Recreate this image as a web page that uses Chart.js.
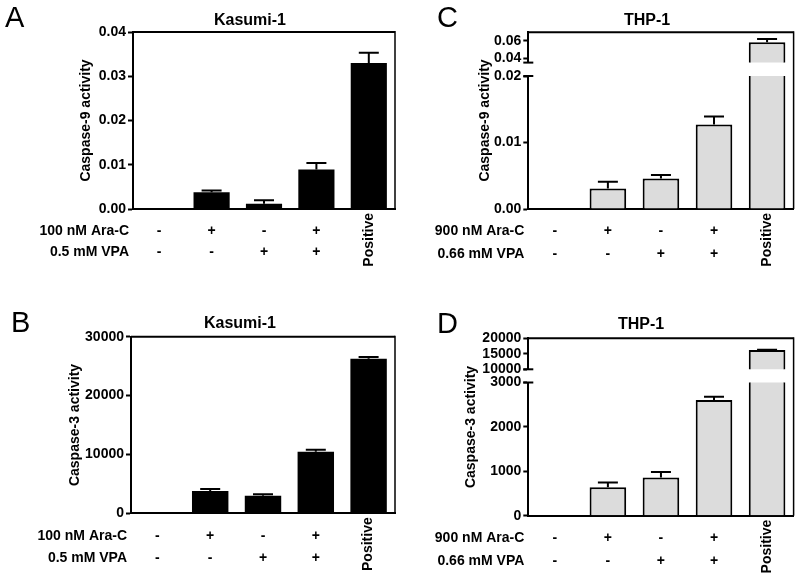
<!DOCTYPE html>
<html>
<head>
<meta charset="utf-8">
<script src="https://cdn.jsdelivr.net/npm/chart.js@4.4.1/dist/chart.umd.min.js"></script>
<style>
html, body { margin: 0; padding: 0; background: #fff; }
#fig { position: relative; width: 800px; height: 575px; overflow: hidden; background: #fff; }
#fig canvas { position: absolute; }
</style>
</head>
<body>
<div id="fig">
  <canvas id="chartA" width="400" height="287" style="left:0;top:0"></canvas>
  <canvas id="chartB" width="400" height="288" style="left:0;top:287px"></canvas>
  <canvas id="chartCup" width="400" height="287" style="left:400px;top:0"></canvas>
  <canvas id="chartClow" width="400" height="287" style="left:400px;top:0"></canvas>
  <canvas id="chartDup" width="400" height="288" style="left:400px;top:287px"></canvas>
  <canvas id="chartDlow" width="400" height="288" style="left:400px;top:287px"></canvas>
</div>
<script>
// conditions under each bar
const conditions = ['Control', 'Ara-C', 'VPA', 'Ara-C + VPA', 'Positive'];
const araSigns = ['-', '+', '-', '+', ''];
const vpaSigns = ['-', '-', '+', '+', ''];
const positiveLabel = 'Positive';

// Kasumi-1
const kasumiCasp9 = [0, 0.0038, 0.0012, 0.0089, 0.0330];
const kasumiCasp9Err = [0, 0.0004, 0.0008, 0.0015, 0.0023];
const kasumiCasp3 = [0, 3790, 2990, 10460, 26250];
const kasumiCasp3Err = [0, 340, 230, 340, 290];

// THP-1
const thpCasp9 = [0, 0.0031, 0.0046, 0.0127, 0.0585];
const thpCasp9Err = [0, 0.0010, 0.0005, 0.0012, 0.0038];
const thpCasp3 = [0, 641, 858, 2605, 16230];
const thpCasp3Err = [0, 104, 128, 75, 110];

// tick labels
const ticksA = [0, 0.01, 0.02, 0.03, 0.04];
const ticksB = [0, 10000, 20000, 30000];
const ticksCLow = [0, 0.01, 0.02];
const ticksCHigh = [0.04, 0.06];
const ticksDLow = [0, 1000, 2000, 3000];
const ticksDHigh = [10000, 15000, 20000];

const FONT = "'Liberation Sans', Arial, Helvetica, sans-serif";
const BLACK = '#000';
const GREY = '#dcdcdc';
const Y_W = 50;

const fmt9 = v => Number(v).toFixed(2);
const fmt3 = v => String(v);

// error bars: upward line with a cap
const errorBars = {
    id: 'errorBars',
    afterDatasetsDraw(chart, args, opts) {
        const errs = opts.errors;
        if (!errs) return;
        const ctx = chart.ctx;
        const y = chart.scales.y;
        const vals = chart.data.datasets[0].data;
        const meta = chart.getDatasetMeta(0);
        ctx.save();
        ctx.strokeStyle = BLACK;
        ctx.lineWidth = 2;
        meta.data.forEach((bar, i) => {
            const v = vals[i], e = errs[i];
            if (!e || v < y.min || v + e > y.max) return;
            const top = y.getPixelForValue(v + e);
            ctx.beginPath();
            ctx.moveTo(bar.x, bar.y);
            ctx.lineTo(bar.x, top);
            ctx.moveTo(bar.x - 10, top);
            ctx.lineTo(bar.x + 10, top);
            ctx.stroke();
        });
        ctx.restore();
    }
};

// frame, panel letter, titles, condition rows
const decor = {
    id: 'decor',
    afterDraw(chart, args, o) {
        const ctx = chart.ctx;
        const ca = chart.chartArea;
        const x = chart.scales.x;
        ctx.save();
        ctx.fillStyle = BLACK;
        ctx.strokeStyle = BLACK;

        if (o.frameTop != null) {
            ctx.lineWidth = 2;
            ctx.beginPath();
            ctx.moveTo(ca.left, o.frameTop);
            ctx.lineTo(ca.right, o.frameTop);
            ctx.stroke();
            ctx.lineWidth = 1.5;
            ctx.beginPath();
            ctx.moveTo(ca.right, o.frameTop - 1);
            ctx.lineTo(ca.right, ca.bottom);
            ctx.stroke();
        }
        (o.caps || []).forEach(c => {
            const yy = c === 'top' ? ca.top : ca.bottom;
            ctx.lineWidth = 2;
            ctx.beginPath();
            ctx.moveTo(ca.left - 5, yy);
            ctx.lineTo(ca.left + 5, yy);
            ctx.stroke();
        });

        if (o.letter) {
            ctx.font = '29px ' + FONT;
            ctx.textAlign = 'left';
            ctx.textBaseline = 'alphabetic';
            ctx.fillText(o.letter, o.letterX, o.letterY);
        }
        if (o.title) {
            ctx.font = 'bold 16px ' + FONT;
            ctx.textAlign = 'center';
            ctx.textBaseline = 'alphabetic';
            ctx.fillText(o.title, o.titleX, o.titleY);
        }
        if (o.yTitle) {
            ctx.save();
            ctx.translate(o.yTitleX, o.yTitleY);
            ctx.rotate(-Math.PI / 2);
            ctx.font = 'bold 14px ' + FONT;
            ctx.textAlign = 'center';
            ctx.textBaseline = 'middle';
            ctx.fillText(o.yTitle, 0, 0);
            ctx.restore();
        }
        if (o.rows) {
            ctx.font = 'bold 14px ' + FONT;
            ctx.textBaseline = 'middle';
            o.rows.forEach((row, r) => {
                const yy = ca.bottom + o.rowOffsets[r];
                ctx.textAlign = 'right';
                ctx.fillText(row.label, ca.left - 4, yy);
                ctx.textAlign = 'center';
                row.signs.forEach((s, i) => {
                    if (s) ctx.fillText(s, x.getPixelForValue(i), yy);
                });
            });
            ctx.save();
            ctx.translate(x.getPixelForValue(conditions.length - 1), ca.bottom + 4);
            ctx.rotate(-Math.PI / 2);
            ctx.textAlign = 'right';
            ctx.textBaseline = 'middle';
            ctx.fillText(positiveLabel, 0, 0);
            ctx.restore();
        }
        ctx.restore();
    }
};

function makeChart(id, cfg) {
    const canvas = document.getElementById(id);
    const W = canvas.width, H = canvas.height;
    return new Chart(canvas, {
        type: 'bar',
        data: {
            labels: conditions,
            datasets: [{
                data: cfg.values,
                backgroundColor: cfg.fill,
                borderColor: BLACK,
                borderWidth: cfg.fill === BLACK ? 0 : 2,
                borderSkipped: 'start',
                categoryPercentage: 1,
                barPercentage: 0.69,
                clip: 0
            }]
        },
        options: {
            responsive: false,
            animation: false,
            devicePixelRatio: 1,
            layout: {
                padding: {
                    left: cfg.area.left - Y_W,
                    right: W - cfg.area.right,
                    top: cfg.area.top,
                    bottom: H - cfg.area.bottom
                }
            },
            plugins: {
                legend: { display: false },
                tooltip: { enabled: false },
                title: { display: false },
                errorBars: { errors: cfg.errors },
                decor: cfg.decor || {}
            },
            scales: {
                x: {
                    display: cfg.showX,
                    grid: { display: false },
                    ticks: { display: false },
                    border: { display: true, color: BLACK, width: 2 },
                    afterFit: s => { s.height = 0; }
                },
                y: {
                    min: cfg.min,
                    max: cfg.max,
                    afterFit: s => { s.width = Y_W; },
                    afterBuildTicks: s => { s.ticks = cfg.ticks.map(v => ({ value: v })); },
                    grid: {
                        drawOnChartArea: false,
                        drawTicks: true,
                        tickLength: 5,
                        tickWidth: 2,
                        tickColor: BLACK
                    },
                    border: { display: true, color: BLACK, width: 2 },
                    ticks: {
                        color: BLACK,
                        padding: 2,
                        autoSkip: false,
                        font: { family: FONT, size: 14, weight: 'bold' },
                        callback: cfg.fmt
                    }
                }
            }
        },
        plugins: [errorBars, decor]
    });
}

const kasumiRows = [
    { label: '100 nM Ara-C', signs: araSigns },
    { label: '0.5 mM VPA', signs: vpaSigns }
];
const thpRows = [
    { label: '900 nM Ara-C', signs: araSigns },
    { label: '0.66 mM VPA', signs: vpaSigns }
];

// A: Kasumi-1 caspase-9
makeChart('chartA', {
    values: kasumiCasp9, errors: kasumiCasp9Err, fill: BLACK,
    min: 0, max: 0.04, ticks: ticksA, fmt: fmt9, showX: true,
    area: { left: 133, right: 395, top: 32, bottom: 209 },
    decor: {
        frameTop: 32,
        letter: 'A', letterX: 5, letterY: 27,
        title: 'Kasumi-1', titleX: 250, titleY: 25,
        yTitle: 'Caspase-9 activity', yTitleX: 86, yTitleY: 120.5,
        rows: kasumiRows, rowOffsets: [22, 43.5]
    }
});

// B: Kasumi-1 caspase-3
makeChart('chartB', {
    values: kasumiCasp3, errors: kasumiCasp3Err, fill: BLACK,
    min: 0, max: 30000, ticks: ticksB, fmt: fmt3, showX: true,
    area: { left: 131, right: 395, top: 49.7, bottom: 226.3 },
    decor: {
        frameTop: 49.7,
        letter: 'B', letterX: 11, letterY: 45,
        title: 'Kasumi-1', titleX: 240, titleY: 41,
        yTitle: 'Caspase-3 activity', yTitleX: 75, yTitleY: 138,
        rows: kasumiRows, rowOffsets: [22.7, 45.2]
    }
});

// C: THP-1 caspase-9, broken axis
makeChart('chartCup', {
    values: thpCasp9, errors: thpCasp9Err, fill: GREY,
    min: 0.035, max: 0.07, ticks: ticksCHigh, fmt: fmt9, showX: false,
    area: { left: 128.3, right: 393.6, top: 32.3, bottom: 62.6 },
    decor: { caps: ['bottom'] }
});
makeChart('chartClow', {
    values: thpCasp9, errors: thpCasp9Err, fill: GREY,
    min: 0, max: 0.02, ticks: ticksCLow, fmt: fmt9, showX: true,
    area: { left: 128.3, right: 393.6, top: 76, bottom: 209 },
    decor: {
        frameTop: 32.3, caps: ['top'],
        letter: 'C', letterX: 37, letterY: 27,
        title: 'THP-1', titleX: 247, titleY: 25,
        yTitle: 'Caspase-9 activity', yTitleX: 85, yTitleY: 120.5,
        rows: thpRows, rowOffsets: [22, 45]
    }
});

// D: THP-1 caspase-3, broken axis
makeChart('chartDup', {
    values: thpCasp3, errors: thpCasp3Err, fill: GREY,
    min: 10000, max: 20000, ticks: ticksDHigh, fmt: fmt3, showX: false,
    area: { left: 128.3, right: 393.6, top: 51.3, bottom: 82.3 },
    decor: { caps: ['bottom'] }
});
makeChart('chartDlow', {
    values: thpCasp3, errors: thpCasp3Err, fill: GREY,
    min: 0, max: 3000, ticks: ticksDLow, fmt: fmt3, showX: true,
    area: { left: 128.3, right: 393.6, top: 95.5, bottom: 228.7 },
    decor: {
        frameTop: 51.3, caps: ['top'],
        letter: 'D', letterX: 37, letterY: 46,
        title: 'THP-1', titleX: 241, titleY: 42,
        yTitle: 'Caspase-3 activity', yTitleX: 70.7, yTitleY: 140,
        rows: thpRows, rowOffsets: [22.8, 45.3]
    }
});
</script>
</body>
</html>
